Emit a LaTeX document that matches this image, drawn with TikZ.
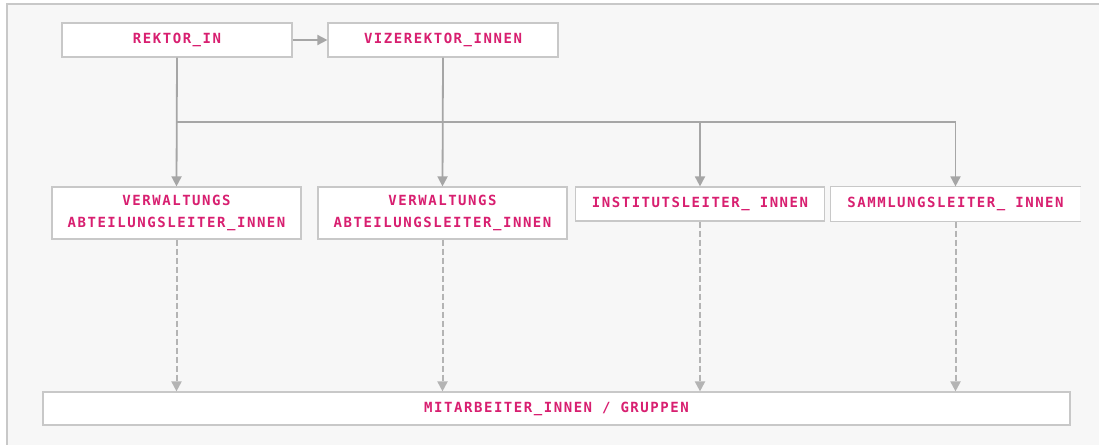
\documentclass[tikz,border=0pt]{standalone}
\usepackage{fontspec}
\usetikzlibrary{arrows.meta}
\newfontfamily\boxfont{DejaVu Sans Mono}[LetterSpace=11]

\definecolor{bggray}{HTML}{F7F7F7}
\definecolor{framegray}{HTML}{C8C8C8}
\definecolor{linegray}{HTML}{A6A6A6}
\definecolor{dashgray}{HTML}{B4B4B4}
\definecolor{labelpink}{HTML}{D81F70}

\begin{document}
\begin{tikzpicture}[x=1pt, y=-1pt, >={Triangle[length=10pt, width=10pt]}]

\tikzstyle{box} = [draw=framegray, line width=1.2pt, fill=white, inner sep=0pt, align=center, text=labelpink, font=\boxfont\bfseries\fontsize{14}{22}\selectfont, minimum width=249pt, minimum height=34pt]
\tikzstyle{link} = [draw=linegray, line width=1.8pt]
\tikzstyle{dlink} = [draw=dashgray, line width=2pt, dash pattern=on 6pt off 3pt]

\useasboundingbox (0, 0) rectangle (1099, 444);
\fill[white] (0, 0) rectangle (1099, 444);
\draw[framegray, line width=1.5pt, fill=bggray] (7, 4) rectangle (1110, 460);

% --- Leitung
\node[box, minimum width=230pt] (rektor) at (177, 40) {REKTOR\_IN};
\node[box, minimum width=230pt] (vize) at (443, 40) {VIZEREKTOR\_INNEN};

% --- mittlere Ebene
\node[box, minimum height=52pt] (va1) at (176.5, 213) {VERWALTUNGS\\ABTEILUNGSLEITER\_INNEN};
\node[box, minimum height=52pt] (va2) at (442.5, 213) {VERWALTUNGS\\ABTEILUNGSLEITER\_INNEN};
\node[box] (inst) at (700, 204) {INSTITUTSLEITER\_ INNEN};
\node[box, draw=none] (sam) at (955.5, 204) {SAMMLUNGSLEITER\_ INNEN};
\draw[framegray, line width=1.2pt] (sam.north east) -- (sam.north west) -- (sam.south west) -- (sam.south east);

% --- Basis
\node[box, minimum width=1027pt, minimum height=33pt] (mit) at (556.5, 408.5) {MITARBEITER\_INNEN / GRUPPEN};

% --- Verbindungen oben
\coordinate (bus) at (0, 122);

\draw[link, ->] (rektor.east) -- (vize.west);
\draw[link] (rektor.south |- bus) -- (sam.north |- bus);
\draw[link, ->] (rektor.south) -- (va1.north);
\draw[link, ->] (vize.south) -- (va2.north);
\draw[link, ->] (inst.north |- bus) -- (inst.north);
\draw[link, ->] (sam.north |- bus) -- (sam.north);

% --- gestrichelt nach unten
\draw[dlink, ->, dashgray] (va1.south) -- (va1.south |- mit.north);
\draw[dlink, ->, dashgray] (va2.south) -- (va2.south |- mit.north);
\draw[dlink, ->, dashgray] (inst.south) -- (inst.south |- mit.north);
\draw[dlink, ->, dashgray] (sam.south) -- (sam.south |- mit.north);

\end{tikzpicture}
\end{document}
